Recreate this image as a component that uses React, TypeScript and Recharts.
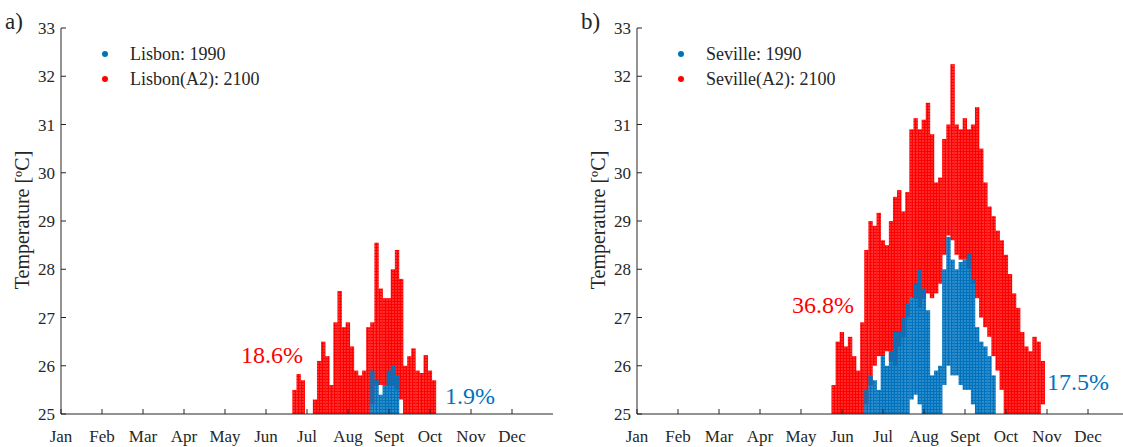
import React from "react";
import { ComposedChart, Bar, XAxis, YAxis } from "recharts";

const MONTHS = ["Jan", "Feb", "Mar", "Apr", "May", "Jun", "Jul", "Aug", "Sept", "Oct", "Nov", "Dec"];
const MONTH_TICKS = [0, 1, 2, 3, 4, 5, 6, 7, 8, 9, 10, 11];
const TEMP_TICKS = [25, 26, 27, 28, 29, 30, 31, 32, 33];

// [month (0 = 1 Jan), lowest, highest] hourly temperature above 25 ºC, per ~3 day strip
const lisbon1990 = [
  [7.6, 25, 25.9], [7.7, 25, 25.7], [7.8, 25, 25.4], [7.9, 25, 25.6],
  [8.0, 25, 25.9], [8.1, 25, 26.0], [8.2, 25, 25.8],
];

const lisbonA2 = [
  [5.7, 25, 25.5], [5.8, 25, 25.83], [5.9, 25, 25.7], [6.2, 25, 25.3],
  [6.3, 25, 26.1], [6.4, 25, 26.5], [6.5, 25, 26.2], [6.6, 25, 25.6],
  [6.7, 25, 26.9], [6.8, 25, 27.55], [6.9, 25, 26.8], [7.0, 25, 26.9],
  [7.1, 25, 26.4], [7.2, 25, 25.9], [7.3, 25, 25.8], [7.4, 25, 25.9],
  [7.5, 25, 26.8], [7.6, 25.2, 26.9], [7.7, 25.6, 28.55], [7.8, 25.6, 27.6],
  [7.9, 25.6, 27.4], [8.0, 25.6, 27.4], [8.1, 25.6, 28.0], [8.2, 25.5, 28.4],
  [8.3, 25.3, 27.8], [8.4, 25, 26.0], [8.5, 25, 26.2], [8.6, 25, 26.36],
  [8.7, 25, 25.9], [8.8, 25, 25.85], [8.9, 25, 26.22], [9.0, 25, 25.9],
  [9.1, 25, 25.7],
];

const seville1990 = [
  [5.6, 25, 25.5], [5.7, 25, 25.8], [5.8, 25, 25.7], [5.9, 25, 25.5],
  [6.0, 25, 26.2], [6.1, 25, 26.0], [6.2, 25, 26.3], [6.3, 25, 26.7],
  [6.4, 25, 26.7], [6.5, 25, 27.0], [6.6, 25, 27.3], [6.7, 25.3, 27.4],
  [6.8, 25.4, 27.7], [6.9, 25.2, 28.0], [7.0, 25, 27.6], [7.1, 25, 27.15],
  [7.2, 25, 25.8], [7.3, 25, 25.9], [7.4, 25, 26.0], [7.5, 25.6, 28.0],
  [7.6, 26.0, 28.67], [7.7, 25.8, 28.2], [7.8, 25.8, 28.0], [7.9, 25.6, 28.15],
  [8.0, 25.5, 28.2], [8.1, 25.5, 28.33], [8.2, 25.2, 27.8], [8.3, 25, 26.8],
  [8.4, 25, 26.5], [8.5, 25, 26.4], [8.6, 25, 26.2], [8.7, 25, 25.8],
];

const sevilleA2 = [
  [4.8, 25, 25.6], [4.9, 25, 26.5], [5.0, 25, 26.7], [5.1, 25, 26.4],
  [5.2, 25, 26.6], [5.3, 25, 26.2], [5.4, 25, 25.9], [5.5, 25, 26.9],
  [5.6, 25.2, 28.4], [5.7, 25.6, 29.0], [5.8, 26.0, 28.9], [5.9, 26.2, 29.17],
  [6.0, 26.2, 28.6], [6.1, 26.3, 28.5], [6.2, 26.1, 29.0], [6.3, 26.0, 29.5],
  [6.4, 26.4, 29.64], [6.5, 26.6, 29.2], [6.6, 27.0, 29.6], [6.7, 27.4, 30.9],
  [6.8, 27.4, 31.13], [6.9, 27.2, 30.9], [7.0, 27.4, 31.1], [7.1, 27.5, 31.45],
  [7.2, 27.4, 30.8], [7.3, 27.5, 29.8], [7.4, 27.7, 29.9], [7.5, 28.3, 30.7],
  [7.6, 28.7, 31.0], [7.7, 28.6, 32.25], [7.8, 28.3, 31.0], [7.9, 28.2, 30.9],
  [8.0, 28.2, 31.13], [8.1, 28.0, 30.9], [8.2, 27.7, 31.0], [8.3, 27.4, 31.36],
  [8.4, 27.0, 30.5], [8.5, 26.8, 29.8], [8.6, 26.6, 29.3], [8.7, 26.2, 29.1],
  [8.8, 25.9, 28.8], [8.9, 25.5, 28.6], [9.0, 25, 28.3], [9.1, 25, 27.9],
  [9.2, 25, 27.5], [9.3, 25, 27.2], [9.4, 25, 26.7], [9.5, 25, 26.4],
  [9.6, 25, 26.3], [9.7, 25, 26.6], [9.8, 25, 26.5], [9.9, 25.2, 26.1],
];

const BLUE = "#0072BD";
const RED = "#FF0000";
const INK = "#262626";
const FONT = "'Liberation Serif', 'Times New Roman', serif";

function buildRows(hot: number[][], base: number[][]) {
  const rows = new Map<number, any>();
  hot.forEach(([m, lo, hi]) => rows.set(m, { ...(rows.get(m) || { m }), hot: [lo, hi] }));
  base.forEach(([m, lo, hi]) => rows.set(m, { ...(rows.get(m) || { m }), base: [lo, hi] }));
  return [...rows.values()].sort((a, b) => a.m - b.m);
}

const tickStyle = { fontSize: 17, fill: INK, fontFamily: FONT };

// each strip is drawn a touch wider so neighbouring strips join up, filled with dots
const strip = (pattern: string) => (props: any) => {
  const { x, y, width, height } = props;
  if (!height || !isFinite(y) || !isFinite(x)) return <g />;
  return <rect x={x - 0.7} y={y} width={width + 1.4} height={height} fill={`url(#${pattern})`} />;
};

function Panel({ data, left, width, marginLeft, marginRight }: any) {
  return (
    <div style={{ position: "absolute", left, top: 0 }}>
      <ComposedChart
        width={width}
        height={447}
        data={data}
        margin={{ top: 28, right: marginRight, bottom: 3, left: marginLeft }}
      >
        <XAxis
          xAxisId="x"
          dataKey="m"
          type="number"
          domain={[0, 12]}
          ticks={MONTH_TICKS}
          interval={0}
          tickFormatter={(i) => MONTHS[i]}
          height={30}
          tickSize={-5}
          tickMargin={21}
          tick={tickStyle}
          stroke={INK}
        />
        <XAxis xAxisId="xb" dataKey="m" type="number" domain={[0, 12]} ticks={MONTH_TICKS} hide />
        <XAxis
          xAxisId="top"
          orientation="top"
          dataKey="m"
          type="number"
          domain={[0, 12]}
          ticks={MONTH_TICKS}
          height={0}
          tickSize={-5}
          tickFormatter={() => ""}
          stroke={INK}
        />
        <YAxis
          domain={[25, 33]}
          ticks={TEMP_TICKS}
          allowDataOverflow
          width={40}
          tickSize={-5}
          tickMargin={11}
          tick={tickStyle}
          stroke={INK}
        />
        <YAxis
          yAxisId="right"
          orientation="right"
          domain={[25, 33]}
          ticks={TEMP_TICKS}
          width={0}
          tickSize={-5}
          tickFormatter={() => ""}
          stroke={INK}
        />
        <Bar xAxisId="x" dataKey="hot" fill={RED} shape={strip("dots-red")} isAnimationActive={false} />
        <Bar xAxisId="xb" dataKey="base" fill={BLUE} shape={strip("dots-blue")} isAnimationActive={false} />
      </ComposedChart>
    </div>
  );
}

function Txt({ x, y, size, color = INK, children, rotate = false }: any) {
  return (
    <div
      style={{
        position: "absolute",
        left: x,
        top: y - size / 2,
        fontSize: size,
        lineHeight: 1,
        color,
        fontFamily: FONT,
        whiteSpace: "nowrap",
        transform: rotate ? "translate(-50%, 0) rotate(-90deg)" : undefined,
      }}
    >
      {children}
    </div>
  );
}

function LegendBox({ x, entries }: any) {
  return (
    <>
      {entries.map((e: any, i: number) => (
        <React.Fragment key={e.label}>
          <div
            style={{
              position: "absolute",
              left: x - 3,
              top: 54 + i * 25 - 3,
              width: 6,
              height: 6,
              borderRadius: 3,
              background: e.color,
            }}
          />
          <Txt x={x + 25} y={54 + i * 25} size={18}>{e.label}</Txt>
        </React.Fragment>
      ))}
    </>
  );
}

export default function App() {
  const lisbonRows = buildRows(lisbonA2, lisbon1990);
  const sevilleRows = buildRows(sevilleA2, seville1990);
  return (
    <div style={{ position: "absolute", left: 0, top: 0, width: 1123, height: 447, overflow: "hidden", background: "#fff" }}>
      <svg width={0} height={0} style={{ position: "absolute" }}>
        <defs>
          <pattern id="dots-red" width={3} height={3} patternUnits="userSpaceOnUse">
            <circle cx={1.5} cy={1.5} r={1.65} fill={RED} />
          </pattern>
          <pattern id="dots-blue" width={3} height={3} patternUnits="userSpaceOnUse">
            <circle cx={1.5} cy={1.5} r={1.65} fill={BLUE} />
          </pattern>
        </defs>
      </svg>
      <Panel data={lisbonRows} left={0} width={560} marginLeft={21} marginRight={7} />
      <Panel data={sevilleRows} left={560} width={575} marginLeft={37} marginRight={6} />

      <Txt x={5} y={21} size={23}>a)</Txt>
      <Txt x={581} y={21} size={23}>b)</Txt>

      <Txt x={22} y={220} size={20} rotate>Temperature [ºC]</Txt>
      <Txt x={598} y={220} size={20} rotate>Temperature [ºC]</Txt>

      <LegendBox x={105} entries={[{ label: "Lisbon: 1990", color: BLUE }, { label: "Lisbon(A2): 2100", color: RED }]} />
      <LegendBox x={681} entries={[{ label: "Seville: 1990", color: BLUE }, { label: "Seville(A2): 2100", color: RED }]} />

      <Txt x={241} y={355} size={24} color={RED}>18.6%</Txt>
      <Txt x={445} y={396} size={24} color={BLUE}>1.9%</Txt>
      <Txt x={792} y={305} size={24} color={RED}>36.8%</Txt>
      <Txt x={1047} y={382} size={24} color={BLUE}>17.5%</Txt>
    </div>
  );
}
